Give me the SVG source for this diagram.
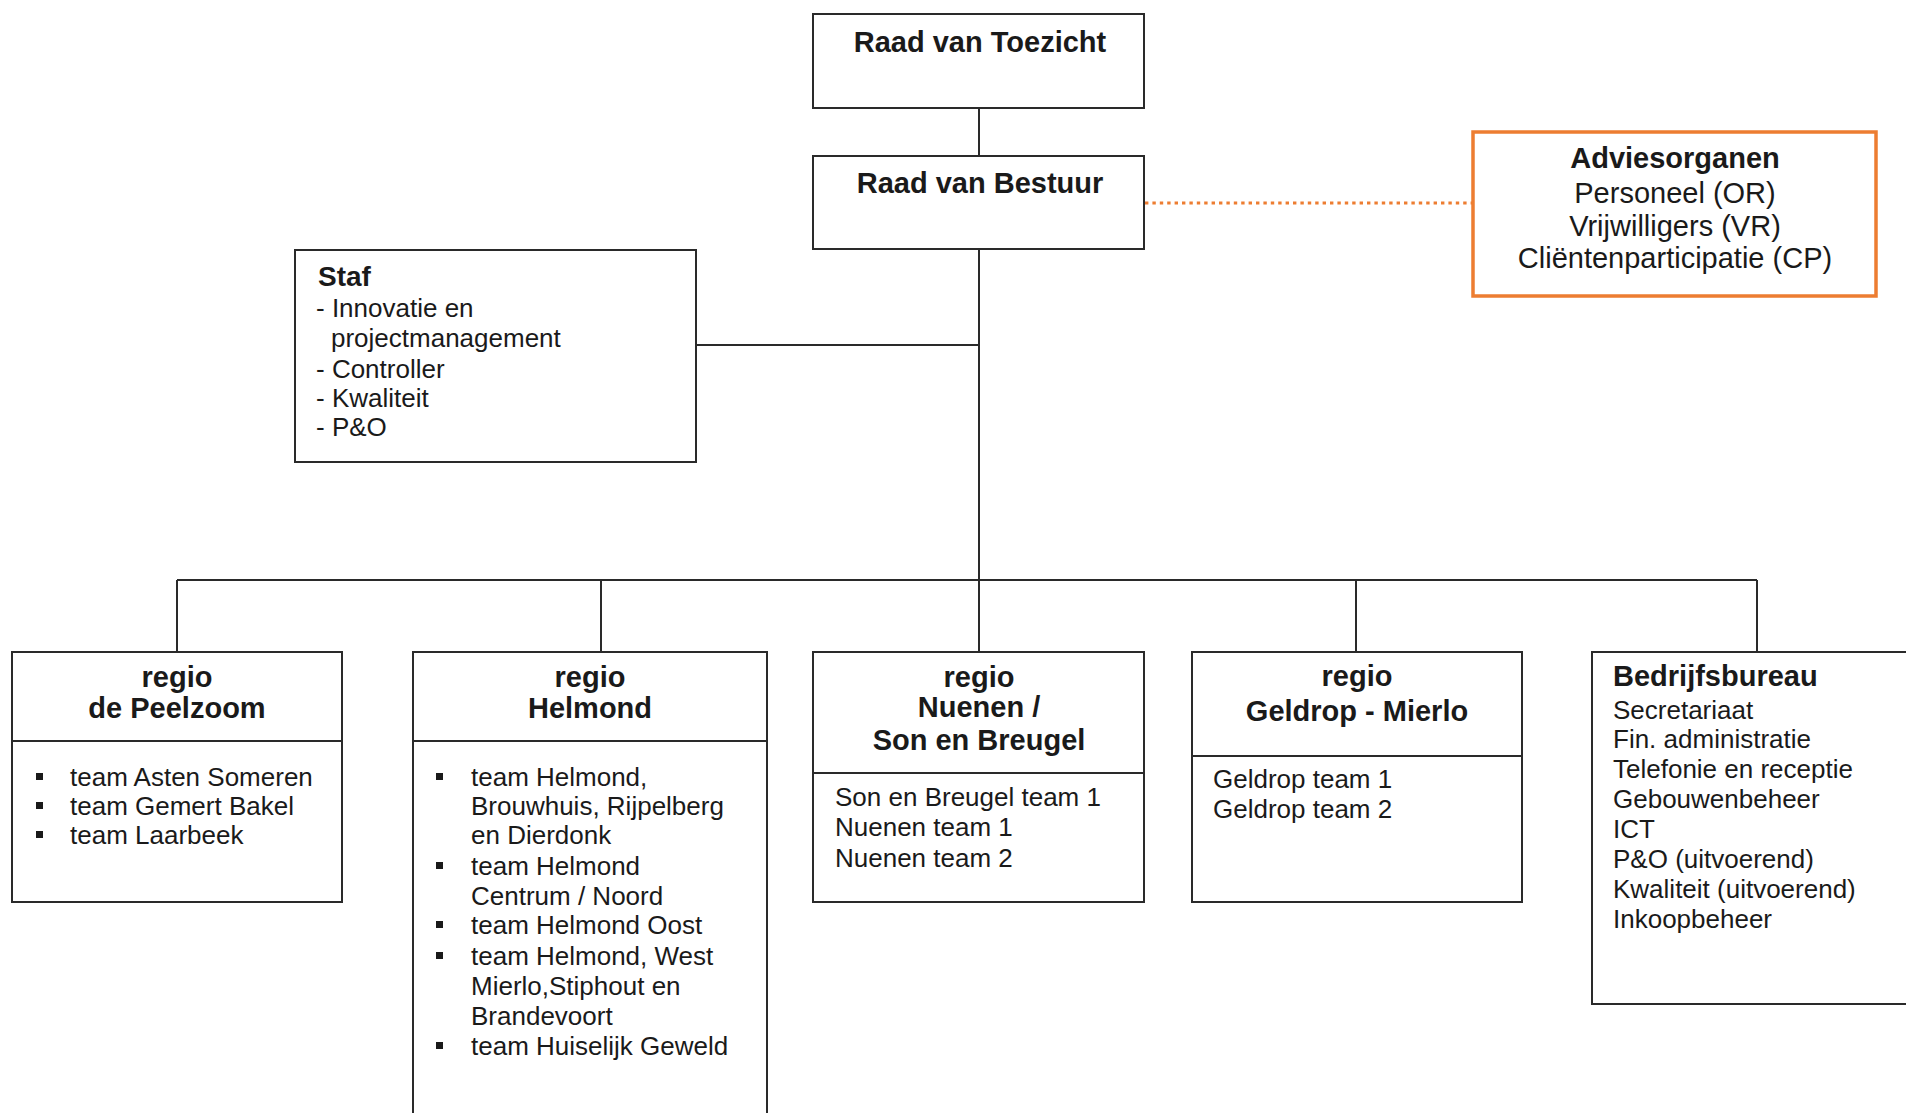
<svg xmlns="http://www.w3.org/2000/svg" width="1906" height="1113" viewBox="0 0 1906 1113">
<style>
text{font-family:"Liberation Sans",Arial,sans-serif;fill:#1a1a1a}
.h{font-weight:bold;font-size:29px}
.b{font-size:26px}
.a{font-size:29px}
.c{text-anchor:middle}
.box{fill:#fff;stroke:#2a2a2a;stroke-width:2}
.ln{stroke:#2a2a2a;stroke-width:2;fill:none}
.bul{fill:#1a1a1a}
</style>
<rect width="1906" height="1113" fill="#fff"/>
<g id="connectors">
<line class="ln" x1="979" y1="108" x2="979" y2="156"/>
<line class="ln" x1="979" y1="249" x2="979" y2="580"/>
<line class="ln" x1="696" y1="345" x2="979" y2="345"/>
<line class="ln" x1="177" y1="580" x2="1757" y2="580" stroke-width="2.5"/>
<line class="ln" x1="177" y1="580" x2="177" y2="652"/>
<line class="ln" x1="601" y1="580" x2="601" y2="652"/>
<line class="ln" x1="979" y1="580" x2="979" y2="652"/>
<line class="ln" x1="1356" y1="580" x2="1356" y2="652"/>
<line class="ln" x1="1757" y1="580" x2="1757" y2="652"/>
<line x1="1145" y1="203" x2="1472" y2="203" stroke="#ED7D31" stroke-width="3" stroke-dasharray="3.4 4"/>
</g>
<g id="raad-toezicht">
<rect class="box" x="813" y="14" width="331" height="94"/>
<text class="h c" x="980" y="52">Raad van Toezicht</text>
</g>
<g id="raad-bestuur">
<rect class="box" x="813" y="156" width="331" height="93"/>
<text class="h c" x="980" y="193">Raad van Bestuur</text>
</g>
<g id="adviesorganen">
<rect x="1473" y="132" width="403" height="164" fill="#fff" stroke="#ED7D31" stroke-width="3.5"/>
<text class="h c" x="1675" y="168">Adviesorganen</text>
<text class="a c" x="1675" y="203">Personeel (OR)</text>
<text class="a c" x="1675" y="236">Vrijwilligers (VR)</text>
<text class="a c" x="1675" y="268">Cliëntenparticipatie (CP)</text>
</g>
<g id="staf">
<rect class="box" x="295" y="250" width="401" height="212"/>
<text x="318" y="286" font-weight="bold" font-size="28">Staf</text>
<text class="b" x="316" y="317">- Innovatie en</text>
<text class="b" x="331" y="347">projectmanagement</text>
<text class="b" x="316" y="378">- Controller</text>
<text class="b" x="316" y="407">- Kwaliteit</text>
<text class="b" x="316" y="436">- P&amp;O</text>
</g>
<g id="regio-peelzoom">
<rect class="box" x="12" y="652" width="330" height="250"/>
<line class="ln" x1="12" y1="741" x2="342" y2="741"/>
<text class="h c" x="177" y="687">regio</text>
<text class="h c" x="177" y="718">de Peelzoom</text>
<rect class="bul" x="36" y="773" width="7" height="7"/>
<rect class="bul" x="36" y="802" width="7" height="7"/>
<rect class="bul" x="36" y="831" width="7" height="7"/>
<text class="b" x="70" y="786">team Asten Someren</text>
<text class="b" x="70" y="815">team Gemert Bakel</text>
<text class="b" x="70" y="844">team Laarbeek</text>
</g>
<g id="regio-helmond">
<rect class="box" x="413" y="652" width="354" height="480"/>
<line class="ln" x1="413" y1="741" x2="767" y2="741"/>
<text class="h c" x="590" y="687">regio</text>
<text class="h c" x="590" y="718">Helmond</text>
<rect class="bul" x="436" y="773" width="7" height="7"/>
<rect class="bul" x="436" y="862" width="7" height="7"/>
<rect class="bul" x="436" y="921" width="7" height="7"/>
<rect class="bul" x="436" y="952" width="7" height="7"/>
<rect class="bul" x="436" y="1042" width="7" height="7"/>
<text class="b" x="471" y="786">team Helmond,</text>
<text class="b" x="471" y="815">Brouwhuis, Rijpelberg</text>
<text class="b" x="471" y="844">en Dierdonk</text>
<text class="b" x="471" y="875">team Helmond</text>
<text class="b" x="471" y="905">Centrum  / Noord</text>
<text class="b" x="471" y="934">team Helmond Oost</text>
<text class="b" x="471" y="965">team Helmond, West</text>
<text class="b" x="471" y="995">Mierlo,Stiphout en</text>
<text class="b" x="471" y="1025">Brandevoort</text>
<text class="b" x="471" y="1055">team Huiselijk Geweld</text>
</g>
<g id="regio-nuenen">
<rect class="box" x="813" y="652" width="331" height="250"/>
<line class="ln" x1="813" y1="773" x2="1144" y2="773"/>
<text class="h c" x="979" y="687">regio</text>
<text class="h c" x="979" y="717">Nuenen /</text>
<text class="h c" x="979" y="750">Son en Breugel</text>
<text class="b" x="835" y="806">Son en Breugel team 1</text>
<text class="b" x="835" y="836">Nuenen team 1</text>
<text class="b" x="835" y="867">Nuenen team 2</text>
</g>
<g id="regio-geldrop">
<rect class="box" x="1192" y="652" width="330" height="250"/>
<line class="ln" x1="1192" y1="756" x2="1522" y2="756"/>
<text class="h c" x="1357" y="686">regio</text>
<text class="h c" x="1357" y="721">Geldrop - Mierlo</text>
<text class="b" x="1213" y="788">Geldrop team 1</text>
<text class="b" x="1213" y="818">Geldrop team 2</text>
</g>
<g id="bedrijfsbureau">
<rect class="box" x="1592" y="652" width="330" height="352"/>
<text class="h" x="1613" y="686">Bedrijfsbureau</text>
<text class="b" x="1613" y="719">Secretariaat</text>
<text class="b" x="1613" y="748">Fin. administratie</text>
<text class="b" x="1613" y="778">Telefonie en receptie</text>
<text class="b" x="1613" y="808">Gebouwenbeheer</text>
<text class="b" x="1613" y="838">ICT</text>
<text class="b" x="1613" y="868">P&amp;O (uitvoerend)</text>
<text class="b" x="1613" y="898">Kwaliteit (uitvoerend)</text>
<text class="b" x="1613" y="928">Inkoopbeheer</text>
</g>
</svg>
